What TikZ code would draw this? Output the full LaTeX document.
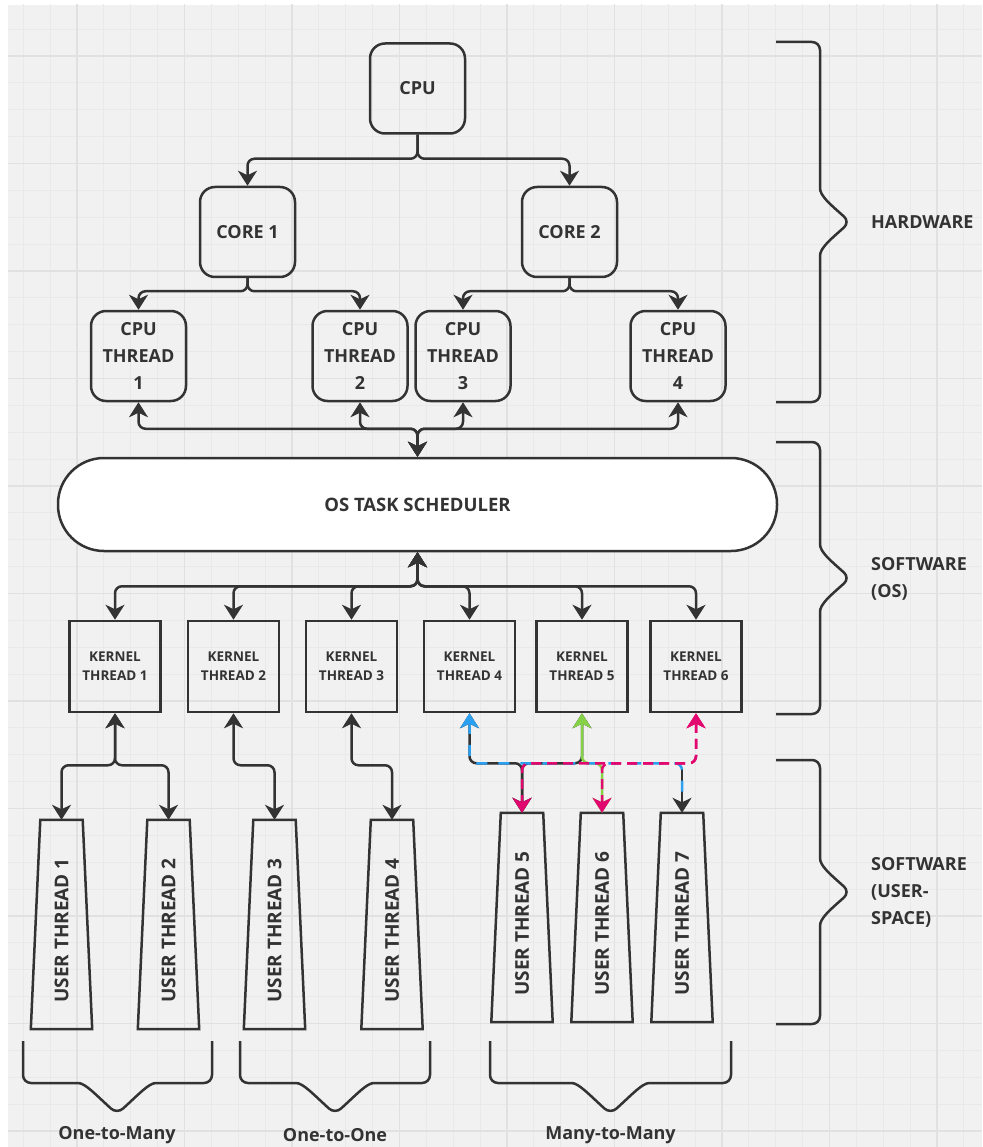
\documentclass[tikz,border=0pt]{standalone}
\usepackage{fontspec}
\setmainfont{Open Sans}
\usetikzlibrary{arrows.meta,calc}

\definecolor{ink}{HTML}{333333}
\definecolor{paper}{HTML}{F1F1F1}
\definecolor{gridminor}{HTML}{E9E9E9}
\definecolor{gridmajor}{HTML}{E1E1E1}
\definecolor{mtblue}{HTML}{2B9FF0}
\definecolor{mtgreen}{HTML}{85D147}
\definecolor{mtpink}{HTML}{E2076E}

\tikzset{
  >={Stealth[length=15pt,width=19pt,inset=4.5pt]},
  hwbox/.style={draw=ink, line width=2.5pt, rounded corners=15pt,
    minimum width=95pt, minimum height=90pt, inner sep=0pt, align=center,
    text=ink, font=\fontsize{18pt}{27pt}\selectfont\bfseries},
  kbox/.style={draw=ink, line width=2.5pt, minimum width=91pt,
    minimum height=91pt, inner sep=0pt, align=center, text=ink,
    font=\fontsize{13.5pt}{19pt}\selectfont\bfseries},
  sched/.style={draw=ink, fill=white, line width=2.5pt, rounded corners=46pt,
    minimum width=719pt, minimum height=93pt, inner sep=0pt, text=ink,
    font=\fontsize{18.5pt}{22pt}\selectfont\bfseries},
  uthread/.style={minimum width=61pt, minimum height=209pt, inner sep=0pt,
    text=ink, font=\fontsize{19pt}{22pt}\selectfont\bfseries},
  link/.style={draw=ink, line width=2.5pt, rounded corners=7pt},
  bracket/.style={draw=ink, line width=2.5pt, rounded corners=8pt},
  sidelabel/.style={anchor=west, align=left, text=ink, inner sep=0pt,
    font=\fontsize{18pt}{27pt}\selectfont\bfseries},
  grouplabel/.style={text=ink, inner sep=0pt,
    font=\fontsize{18pt}{22pt}\selectfont\bfseries},
}

% trapezium outline around a user-thread node (narrow top, wide bottom)
\newcommand\utshape[1]{%
  \draw[ink, line width=2.5pt, line join=miter]
    ($(#1.north west)+(9.5,0)$) -- ($(#1.north east)+(-9.5,0)$) --
    (#1.south east) -- (#1.south west) -- cycle;}

% vertical caption of a user thread, set a little below the middle
\newcommand\utlabel[1]{\rotatebox{90}{USER THREAD #1\kern12pt}}

% curly bracket opening to the left: top y, tip y, bottom y
\newcommand\rightbrace[3]{%
  \draw[bracket] (776,#1) -- (820,#1) -- (820,{#2-42})
    .. controls (820,{#2-26}) and (830,{#2-18}) .. (850,#2)
    .. controls (830,{#2+18}) and (820,{#2+26}) .. (820,{#2+42})
    -- (820,#3) -- (776,#3);}

% curly bracket opening upwards: left x, tip x, right x
\newcommand\downbrace[3]{%
  \draw[bracket] (#1,1041) -- (#1,1083) -- ({#2-47},1083)
    .. controls ({#2-32},1083) and ({#2-22},1094) .. (#2,1114)
    .. controls ({#2+22},1094) and ({#2+32},1083) .. ({#2+47},1083)
    -- (#3,1083) -- (#3,1041);}

\begin{document}
\begin{tikzpicture}[x=1pt,y=-1pt]
  \useasboundingbox (0,0) rectangle (982,1147);
  \fill[white] (0,0) rectangle (982,1147);

  % squared paper
  \begin{scope}
    \clip (8,5) rectangle (982,1147);
    \fill[paper] (8,5) rectangle (982,1147);
    \foreach \k in {-3,...,34}
      \draw[gridminor, line width=1.2pt] ({77+\k*26.875},0) -- ({77+\k*26.875},1147);
    \foreach \k in {-2,...,41}
      \draw[gridminor, line width=1.2pt] (0,{56+\k*26.875}) -- (982,{56+\k*26.875});
    \foreach \k in {-1,...,8}
      \draw[gridmajor, line width=1.6pt] ({77+\k*107.5},0) -- ({77+\k*107.5},1147);
    \foreach \k in {-1,...,10}
      \draw[gridmajor, line width=1.6pt] (0,{56+\k*107.5}) -- (982,{56+\k*107.5});
  \end{scope}

  % hardware
  \node[hwbox] (cpu)   at (417.5,88.5) {CPU};
  \node[hwbox] (core1) at (247.5,232) {CORE 1};
  \node[hwbox] (core2) at (569.5,232) {CORE 2};
  \node[hwbox] (ct1) at (138.5,356) {CPU\\THREAD\\1};
  \node[hwbox] (ct2) at (360,356)   {CPU\\THREAD\\2};
  \node[hwbox] (ct3) at (463,356)   {CPU\\THREAD\\3};
  \node[hwbox] (ct4) at (678,356)   {CPU\\THREAD\\4};

  % operating system
  \node[sched] (os) at (417.5,504.5) {OS TASK SCHEDULER};
  \node[kbox] (kt1) at (115,666.5)   {KERNEL\\THREAD 1};
  \node[kbox] (kt2) at (233.5,666.5) {KERNEL\\THREAD 2};
  \node[kbox] (kt3) at (351.5,666.5) {KERNEL\\THREAD 3};
  \node[kbox] (kt4) at (469.5,666.5) {KERNEL\\THREAD 4};
  \node[kbox] (kt5) at (582,666.5)   {KERNEL\\THREAD 5};
  \node[kbox] (kt6) at (696,666.5)   {KERNEL\\THREAD 6};

  % user space
  \node[uthread] (ut1) at (61.5,924.5)  {\utlabel{1}};
  \node[uthread] (ut2) at (168.5,924.5) {\utlabel{2}};
  \node[uthread] (ut3) at (274.5,924.5) {\utlabel{3}};
  \node[uthread] (ut4) at (392,924.5)   {\utlabel{4}};
  \node[uthread] (ut5) at (522,917.5)   {\utlabel{5}};
  \node[uthread] (ut6) at (602,917.5)   {\utlabel{6}};
  \node[uthread] (ut7) at (682,917.5)   {\utlabel{7}};
  \foreach \u in {ut1,ut2,ut3,ut4,ut5,ut6,ut7} \utshape{\u};

  % cpu -> cores -> hardware threads
  \draw[link,->] (cpu.south) -- ++(0,24) -| (core1.north);
  \draw[link,->] (cpu.south) -- ++(0,24) -| (core2.north);
  \draw[link,->] (core1.south) -- ++(0,13) -| (ct1.north);
  \draw[link,->] (core1.south) -- ++(0,13) -| (ct2.north);
  \draw[link,->] (core2.south) -- ++(0,13) -| (ct3.north);
  \draw[link,->] (core2.south) -- ++(0,13) -| (ct4.north);

  % scheduler <-> hardware threads
  \foreach \t in {ct1,ct2,ct3,ct4}
    \draw[link,<->] (os.north) -- ++(0,-28) -| (\t.south);

  % scheduler <-> kernel threads
  \foreach \t in {kt1,kt2,kt3,kt4,kt5,kt6}
    \draw[link,<->] (os.south) -- ++(0,34) -| (\t.north);

  % one-to-many and one-to-one
  \draw[link,<->] (kt1.south) -- ++(0,52) -| (ut1.north);
  \draw[link,<->] (kt1.south) -- ++(0,52) -| (ut2.north);
  \draw[link,<->] (kt2.south) -- ++(0,52) -| (ut3.north);
  \draw[link,<->] (kt3.south) -- ++(0,52) -| (ut4.north);

  % many-to-many
  \coordinate (drop7) at ($(ut7.north)+(0,-44)$);
  \draw[link,<->] (kt4.south) -- ++(0,50) -| (ut5.north);
  \draw[link,<->] (kt5.south) -- ++(0,50) -| (ut5.north);
  \draw[link,->] (drop7) -- (ut7.north);
  \draw[link,draw=mtgreen,<->] (kt5.south) -- ++(0,50) -| (ut6.north);
  \draw[link,draw=mtblue,dash pattern=on 11pt off 11pt,<-,shorten >=15pt]
    (kt4.south) -- ++(0,50) -| (ut7.north);
  \draw[link,draw=mtpink,dash pattern=on 10pt off 6pt,<->]
    (kt6.south) -- ++(0,50) -| (ut5.north);
  \draw[link,draw=mtpink,dash pattern=on 10pt off 6pt,<->]
    (kt6.south) -- ++(0,50) -| (ut6.north);

  % layer brackets
  \rightbrace{42}{222}{402}
  \rightbrace{442}{578}{714}
  \rightbrace{760}{892}{1024}
  \node[sidelabel] (lhw)   at (871,222) {HARDWARE};
  \node[sidelabel] (los)   at (871,579) {SOFTWARE\\(OS)};
  \node[sidelabel] (luser) at (871,892) {SOFTWARE\\(USER-\\SPACE)};

  % mapping brackets
  \downbrace{23}{117}{212}
  \downbrace{240}{335}{430}
  \downbrace{490}{610.5}{731}
  \node[grouplabel] (g1) at (117,1135)   {One-to-Many};
  \node[grouplabel] (g2) at (335,1135)   {One-to-One};
  \node[grouplabel] (g3) at (610.5,1135) {Many-to-Many};
\end{tikzpicture}
\end{document}
